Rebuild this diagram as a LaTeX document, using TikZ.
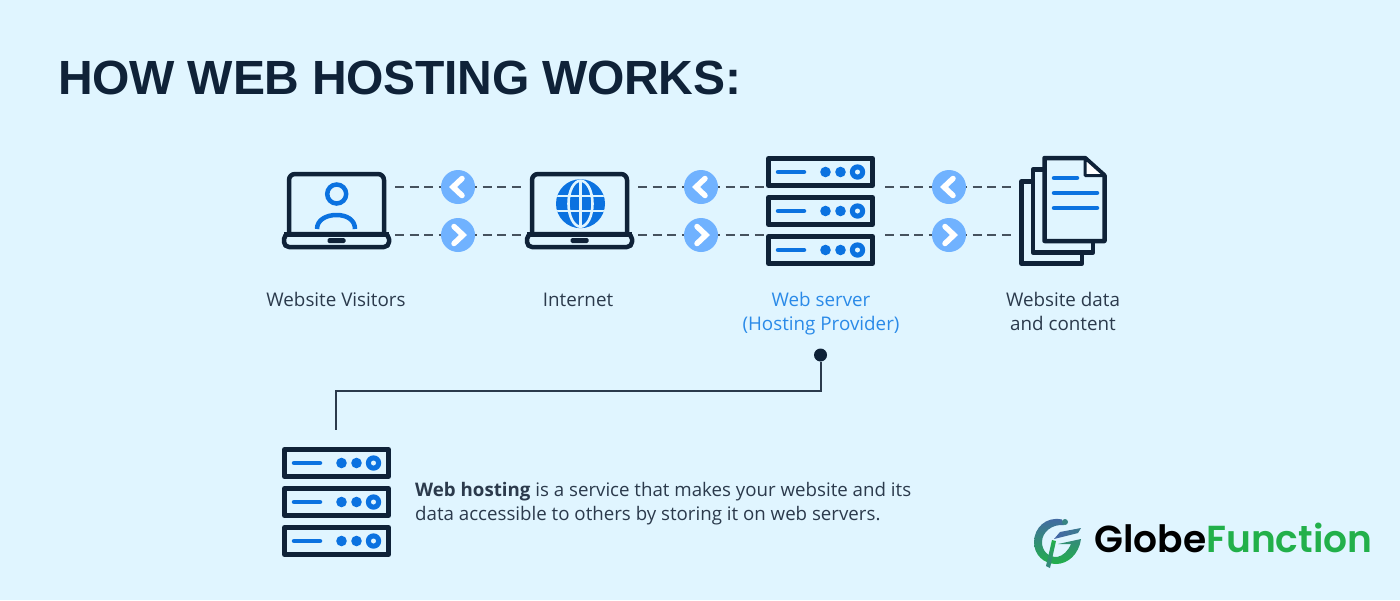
\documentclass[tikz,border=0pt]{standalone}
\usepackage{fontspec}
\setmainfont{Open Sans}
\newfontfamily\headfont[LetterSpace=-0.6]{Liberation Sans}
\newfontfamily\logofont[BoldFont={Poppins SemiBold}]{Poppins}
\definecolor{paper}{HTML}{E0F5FF}
\definecolor{ink}{HTML}{0F2238}
\definecolor{textink}{HTML}{2B3A4C}
\definecolor{azure}{HTML}{0B72E0}
\definecolor{skyblue}{HTML}{70B2FF}
\definecolor{linkblue}{HTML}{2A8AE8}
\definecolor{dashgray}{HTML}{46525E}
\definecolor{brandgreen}{HTML}{22B04A}
\definecolor{brandblue}{HTML}{4566A8}
\tikzset{
  x=1pt, y=-1pt,
  outline/.style={draw=ink, line width=4.5pt, line join=round},
  badge/.style={circle, fill=skyblue, minimum size=34pt, inner sep=0pt},
  chevron/.style={draw=white, line width=5.5pt, line cap=round, line join=miter},
  dashlink/.style={draw=dashgray, line width=2pt, dash pattern=on 9pt off 5.6pt},
  caption/.style={text=textink, font=\fontsize{18.8}{24}\selectfont, align=center, inner sep=0pt},
  leader/.style={draw=textink, line width=2pt},
  pics/laptop/.style={code={
    \draw[outline, fill=paper, rounded corners=6pt] (-47.5,64) -- (-47.5,4) -- (47.5,4) -- (47.5,64);
    \draw[outline, fill=paper, rounded corners=5pt] (-52.5,64) -- (-52.5,77) -- (52.5,77) -- (52.5,64) -- cycle;
    \draw[ink, line width=5pt, line cap=butt] (-52.5,64.5) -- (52.5,64.5);
    \fill[ink, rounded corners=1.5pt] (-9,68) rectangle (9,73);
  }},
  pics/rack/.style={code={
    \draw[outline, line width=5pt, fill=paper] (2.5,2.5) rectangle (106.5,29.5);
    \draw[azure, line width=4.5pt, line cap=round] (12,16) -- (38,16);
    \fill[azure] (59.5,16) circle (5.3pt) (74.5,16) circle (5.3pt) (91.5,16) circle (7.7pt);
    \fill[paper] (91.5,16) circle (2.5pt);
  }}
}
\begin{document}
\begin{tikzpicture}
\useasboundingbox (0,0) rectangle (1400,600);
\fill[paper] (0,0) rectangle (1400,600);

% Heading
\node[anchor=base west, inner sep=0pt, text=ink, font=\headfont\fontsize{48}{56}\selectfont\bfseries] (heading) at (58,94) {HOW WEB HOSTING WORKS:};

% Visitor laptop
\pic at (336.5,170) {laptop};
\draw[azure, line width=4.5pt] (336.7,194) circle (9.5pt);
\draw[azure, line width=4.5pt] (317,229) .. controls (317,220) and (326,215) .. (336.5,215) .. controls (347,215) and (355,220) .. (355,229);

% Internet laptop
\pic at (579.5,170) {laptop};
\fill[azure] (580.5,203.7) circle (24.5pt);
\begin{scope}
  \clip (580.5,203.7) circle (24.5pt);
  \draw[paper, line width=2.6pt] (580.5,180) -- (580.5,227);
  \draw[paper, line width=2.6pt] (556,196) -- (604,196) (556,211) -- (604,211);
  \draw[paper, line width=2.6pt] (580.5,203.7) ellipse (12pt and 23pt);
\end{scope}

% Web server stack
\pic at (766,156) {rack};
\pic at (766,195) {rack};
\pic at (766,234) {rack};

% Stacked documents
\draw[outline, fill=paper] (1021.5,181.5) rectangle (1082,263.5);
\draw[outline, fill=paper] (1033,169.5) rectangle (1093,252.5);
\draw[outline, fill=paper] (1044.5,158) -- (1085,158) -- (1104.5,175.5) -- (1104.5,241) -- (1044.5,241) -- cycle;
\draw[outline, fill=white, line width=3pt] (1085,158) -- (1085,175.5) -- (1104.5,175.5) -- cycle;
\draw[azure, line width=4.5pt, line cap=round] (1054,178) -- (1077,178) (1054,193) -- (1097,193) (1054,208) -- (1097,208);

% Dash end points beside the icons
\coordinate (vtop) at (395,187);  \coordinate (vbot) at (395,235);
\coordinate (itopl) at (521,187); \coordinate (ibotl) at (521,235);
\coordinate (itopr) at (638,187); \coordinate (ibotr) at (638,235);
\coordinate (stopl) at (764,187); \coordinate (sbotl) at (764,235);
\coordinate (stopr) at (885,187); \coordinate (sbotr) at (885,235);
\coordinate (dtop) at (1011,187); \coordinate (dbot) at (1011,235);

\foreach \a/\b in {vtop/itopl, vbot/ibotl, itopr/stopl, ibotr/sbotl, stopr/dtop, sbotr/dbot}
  \draw[dashlink] (\a) -- (\b);

% Direction badges
\foreach \name/\cx in {a/458, b/701, c/949} {
  \node[badge] (\name up) at (\cx,187) {};
  \node[badge] (\name down) at (\cx,235) {};
  \draw[chevron] (\cx+4,178.5) -- (\cx-5,187) -- (\cx+4,195.5);
  \draw[chevron] (\cx-4,226.5) -- (\cx+5,235) -- (\cx-4,243.5);
}

% Captions
\node[caption] (visitors) at (336,299.5) {Website Visitors};
\node[caption] (internet) at (578,299.5) {Internet};
\node[caption, text=linkblue] (server) at (821,313.5) {Web server\\(Hosting Provider)};
\node[caption] (content) at (1063,311.5) {Website data\\and content};

% Leader from the server caption to the explanation
\node[circle, fill=ink, minimum size=13pt, inner sep=0pt] (pin) at (820.5,355) {};
\coordinate (leaderend) at (336,430);
\draw[leader] (pin) -- (820.5,390.5) -- (336,390.5) -- (leaderend);

% Explanation
\pic at (282,447) {rack};
\pic at (282,486) {rack};
\pic at (282,525) {rack};
\node[anchor=west, align=left, text=textink, inner sep=0pt, font=\fontsize{18.7}{24.5}\selectfont] (note) at (415,503.5)
  {\textbf{Web hosting} is a service that makes your website and its\\data accessible to others by storing it on web servers.};

% Brand mark
\shade[top color=brandblue, bottom color=brandgreen]
  (1062,519.5) .. controls (1046,516) and (1034,528) .. (1034,542)
  .. controls (1034,555) and (1044,564) .. (1056,564)
  .. controls (1068,564) and (1079,554) .. (1081,539)
  -- (1058,544) -- (1071,544)
  .. controls (1068,551) and (1063,556) .. (1057,557)
  .. controls (1048,557) and (1042,551) .. (1042,542)
  .. controls (1042,532) and (1052,524) .. (1064,525) -- cycle;
\fill[brandblue!60!brandgreen] (1065,522) circle (3pt);
\shade[left color=brandblue, right color=brandblue!70!brandgreen] (1054,539) -- (1060,532) -- (1081,528) -- (1078,533) -- cycle;
\shade[top color=brandgreen, bottom color=brandblue!60!brandgreen] (1052,540) -- (1056,541) -- (1050,568) -- (1046,566) -- cycle;
\node[anchor=base west, inner sep=0pt, font=\logofont\bfseries\fontsize{37.6}{42}\selectfont] (brand) at (1094,552)
  {\textcolor{black}{Globe}\textcolor{brandgreen}{Function}};
\end{tikzpicture}
\end{document}
